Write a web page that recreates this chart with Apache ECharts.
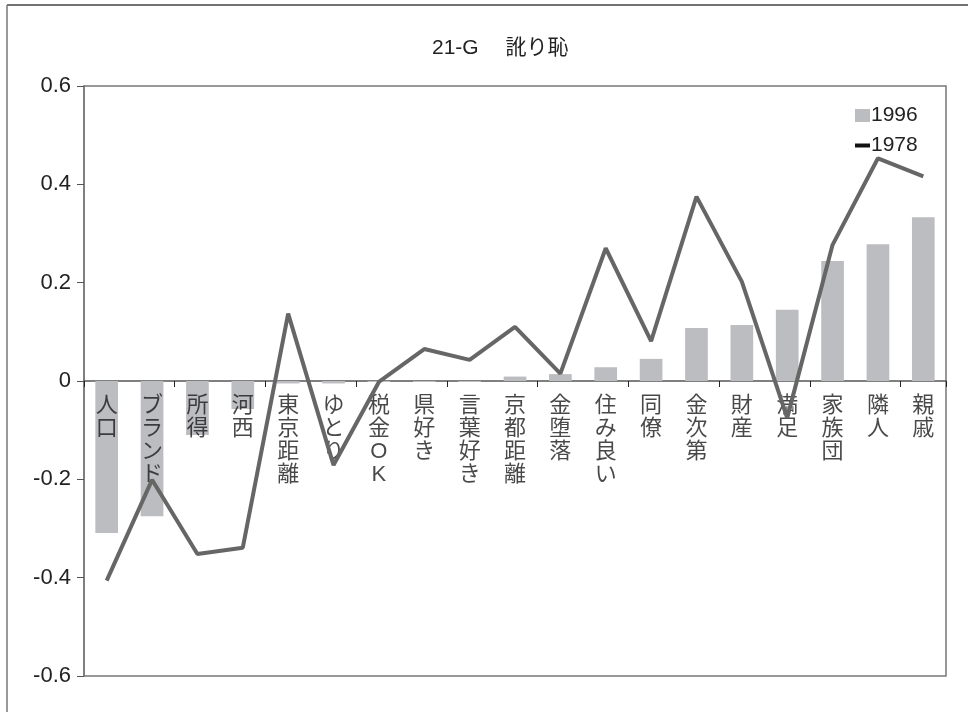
<!DOCTYPE html>
<html>
<head>
<meta charset="utf-8">
<script src="https://cdn.jsdelivr.net/npm/echarts@6/dist/echarts.min.js"></script>
<style>
  html, body { margin: 0; padding: 0; background: #fff; }
  #chart { width: 968px; height: 712px; }
</style>
</head>
<body>
<div id="chart"></div>
<script>
// Categories along the horizontal axis
const categories = ['人口', 'ブランド', '所得', '河西', '東京距離', 'ゆとり', '税金OK', '県好き', '言葉好き',
  '京都距離', '金堕落', '住み良い', '同僚', '金次第', '財産', '満足', '家族団', '隣人', '親戚'];

// 1996 survey (bars)
const values1996 = [-0.309, -0.275, -0.110, -0.057, -0.005, -0.005, -0.002, -0.002, -0.002,
  0.009, 0.014, 0.028, 0.045, 0.108, 0.114, 0.145, 0.244, 0.278, 0.333];

// 1978 survey (line)
const values1978 = [-0.406, -0.201, -0.352, -0.339, 0.137, -0.171, -0.002, 0.065, 0.043,
  0.110, 0.015, 0.270, 0.081, 0.375, 0.202, -0.075, 0.277, 0.453, 0.416];

const yTicks = { min: -0.6, max: 0.6, interval: 0.2 };
const titleText = '21-G　 訛り恥';

const FONT = '"Liberation Sans", "Noto Sans CJK JP", sans-serif';
const chart = echarts.init(document.getElementById('chart'));

// category names sit just under the zero line, one character per row
const nameAnchors = categories.map(function (c) { return [c, 0]; });

chart.setOption({
  backgroundColor: '#fff',
  animation: false,
  textStyle: { fontFamily: FONT, color: '#222' },
  title: {
    text: titleText,
    left: 427,
    top: 33,
    textStyle: { fontFamily: FONT, fontSize: 21, fontWeight: 'normal', color: '#222' }
  },
  legend: {
    orient: 'vertical',
    left: 850,
    top: 100,
    itemWidth: 15,
    itemHeight: 13,
    itemGap: 9,
    textStyle: { fontFamily: FONT, fontSize: 21, color: '#222', padding: [0, 0, 0, -4] },
    data: [
      { name: '1996', icon: 'rect', itemStyle: { color: '#bcbdc1' } },
      { name: '1978', icon: 'path://M0,0H15V4H0Z', itemStyle: { color: '#111' } }
    ]
  },
  grid: {
    left: 84, right: 22, top: 86, bottom: 36,
    containLabel: false,
    outerBoundsMode: 'none',
    show: true, borderColor: '#777', borderWidth: 1.5, backgroundColor: '#fff'
  },
  xAxis: {
    type: 'category',
    data: categories,
    boundaryGap: true,
    axisLine: { onZero: true, lineStyle: { color: '#555', width: 1.5 } },
    axisTick: { show: true, alignWithLabel: false, length: 6, lineStyle: { color: '#222' } },
    axisLabel: { show: false }
  },
  yAxis: {
    type: 'value',
    min: yTicks.min,
    max: yTicks.max,
    interval: yTicks.interval,
    splitLine: { show: false },
    axisLine: { show: true, lineStyle: { color: '#777', width: 1.5 } },
    axisTick: { show: true, length: 7, lineStyle: { color: '#555' } },
    axisLabel: { fontSize: 22, color: '#222', margin: 13 }
  },
  series: [
    {
      name: '1996',
      type: 'bar',
      data: values1996,
      barWidth: '50%',
      itemStyle: { color: '#bcbdc1' },
      z: 2
    },
    {
      name: 'categoryNames',
      type: 'scatter',
      data: nameAnchors,
      symbolSize: 0,
      silent: true,
      z: 3,
      label: {
        show: true,
        position: 'bottom',
        distance: 13,
        fontFamily: FONT,
        fontSize: 22,
        lineHeight: 23,
        color: '#1a1a1a',
        align: 'center',
        verticalAlign: 'top',
        formatter: function (p) { return p.value[0].split('').join('\n'); }
      }
    },
    {
      name: '1978',
      type: 'line',
      data: values1978,
      symbol: 'none',
      lineStyle: { color: '#666', width: 4 },
      itemStyle: { color: '#111' },
      z: 4
    }
  ],
  graphic: [
    { type: 'line', shape: { x1: 7, y1: 5, x2: 968, y2: 5 }, style: { stroke: '#444', lineWidth: 1.5 } },
    { type: 'line', shape: { x1: 7, y1: 5, x2: 7, y2: 712 }, style: { stroke: '#777', lineWidth: 1.5 } }
  ]
});
</script>
</body>
</html>
